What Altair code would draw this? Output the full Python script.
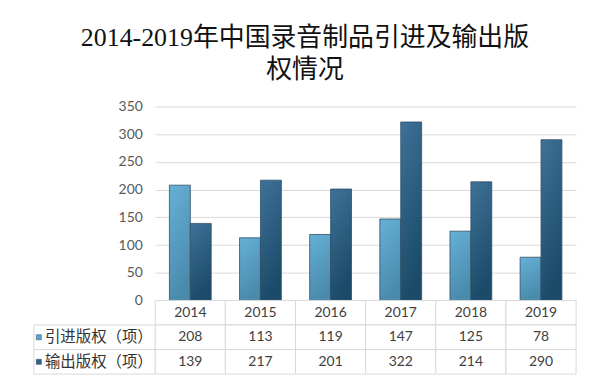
import altair as alt
import pandas as pd

years = ["2014", "2015", "2016", "2017", "2018", "2019"]
series = ["引进版权（项）", "输出版权（项）"]
import_vals = [208, 113, 119, 147, 125, 78]
export_vals = [139, 217, 201, 322, 214, 290]
y_ticks = [0, 50, 100, 150, 200, 250, 300, 350]
title_lines = ["2014-2019年中国录音制品引进及输出版", "权情况"]

bars_df = pd.DataFrame({
    "year": years * 2,
    "series": [series[0]] * len(years) + [series[1]] * len(years),
    "value": import_vals + export_vals,
})

table_rows = ["year"] + series
tbl_df = pd.DataFrame({
    "year": years * 3,
    "row": ["year"] * 6 + [series[0]] * 6 + [series[1]] * 6,
    "text": years + [str(v) for v in import_vals] + [str(v) for v in export_vals],
})
lab_df = pd.DataFrame({"row": series})

NUM_FONT = "Lato"
CJK_FONT = "Noto Sans CJK SC"

x_bar = alt.Scale(domain=years, paddingInner=0.404, paddingOuter=0.202)
x_tbl = alt.Scale(domain=years, paddingInner=0, paddingOuter=0)

grad_light = alt.Gradient(
    gradient="linear",
    stops=[alt.GradientStop(color="#66b0d6", offset=0),
           alt.GradientStop(color="#4a8bad", offset=1)],
    x1=0, x2=0.3, y1=0, y2=1,
)
grad_dark = alt.Gradient(
    gradient="linear",
    stops=[alt.GradientStop(color="#3f7299", offset=0),
           alt.GradientStop(color="#1b4b69", offset=1)],
    x1=0, x2=0.3, y1=0, y2=1,
)


def bar_layer(s, grad):
    return alt.Chart(bars_df).transform_filter(alt.datum.series == s).mark_bar(
        color=grad, stroke="#2f4f66", strokeWidth=0.8
    ).encode(
        x=alt.X("year:N", scale=x_bar, axis=None, title=None),
        xOffset=alt.XOffset("series:N", scale=alt.Scale(domain=series, paddingInner=0, paddingOuter=0)),
        y=alt.Y("value:Q", scale=alt.Scale(domain=[0, 350], nice=False),
                axis=alt.Axis(values=y_ticks, title=None, domain=False, ticks=False,
                              labelPadding=13, labelFont=NUM_FONT, labelFontSize=14,
                              labelColor="#595959", gridColor="#d9d9d9")),
    )


bars = alt.layer(bar_layer(series[0], grad_light), bar_layer(series[1], grad_dark)).properties(
    width=423, height=195
)

y_tbl = alt.Y("row:N", sort=table_rows,
              scale=alt.Scale(domain=table_rows, paddingInner=0, paddingOuter=0),
              axis=alt.Axis(title=None, ticks=False, domain=False, grid=False,
                            labelExpr="datum.value == 'year' ? '' : datum.value",
                            labelFont=CJK_FONT, labelFontSize=15.5, labelColor="#333333",
                            labelPadding=3))

cells = alt.Chart(tbl_df).mark_rect(fill="white", stroke="#d9d9d9", strokeWidth=1).encode(
    x=alt.X("year:N", scale=x_tbl, axis=None), y=y_tbl
)
texts = alt.Chart(tbl_df).mark_text(font=NUM_FONT, fontSize=14, color="#404040").encode(
    x=alt.X("year:N", scale=x_tbl, axis=None), y=y_tbl, text="text:N"
)
lab_cells = alt.Chart(lab_df).mark_rect(fill="white", fillOpacity=0, stroke="#d9d9d9", strokeWidth=1).encode(
    x=alt.value(-122), x2=alt.value(0), y=y_tbl
)
squares = alt.Chart(lab_df).mark_square(size=26, opacity=1, stroke="#2f4f66", strokeWidth=0.5).encode(
    x=alt.value(-117), y=y_tbl,
    color=alt.Color("row:N", scale=alt.Scale(domain=series, range=["#5aa6cc", "#2d6287"]), legend=None),
)

table = alt.layer(lab_cells, cells, texts, squares).properties(width=423, height=74)

chart = alt.vconcat(bars, table, spacing=0, bounds="flush").properties(
    title=alt.TitleParams(
        text=title_lines, fontSize=26, font="Liberation Serif, " + CJK_FONT,
        fontWeight="normal", lineHeight=32, offset=17, anchor="middle", color="#111111",
    ),
    padding={"left": 25, "top": 16, "right": 15, "bottom": 5},
).configure_view(stroke=None)

chart.save("out.html", embed_options={"renderer": "svg", "actions": False})
